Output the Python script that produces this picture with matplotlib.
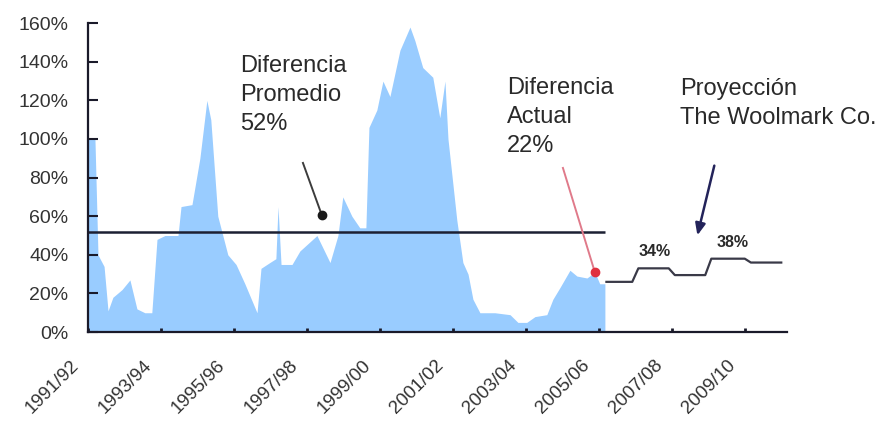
import matplotlib
matplotlib.use('Agg')
import matplotlib.pyplot as plt
from matplotlib.transforms import ScaledTranslation

plt.rcParams['font.family'] = ['Liberation Sans', 'DejaVu Sans']

# ---- data ----
season_labels = ['1991/92', '1993/94', '1995/96', '1997/98', '1999/00',
                 '2001/02', '2003/04', '2005/06', '2007/08', '2009/10']
tick_months = [0, 24, 48, 72, 96, 120, 144, 168, 192, 216]
y_ticks = [0, 20, 40, 60, 80, 100, 120, 140, 160]

# historical price difference (%), months since start of 1991/92
hist_month = [0, 2.3, 3.3, 5.3, 6.6, 8.2, 11.2, 13.8, 16.1, 18.7, 21, 22.7,
              25.3, 29.6, 30.6, 34.2, 36.8, 39.1, 40.4, 42.7, 46, 48.7, 51.6,
              55.6, 56.9, 59.8, 61.8, 62.5, 63.5, 67.1, 69.7, 75.3, 79.6, 82.2,
              83.8, 86.8, 89.4, 91.4, 92.4, 95, 97, 99.3, 102.6, 105.9, 107.5,
              110.1, 113.4, 115.7, 117.4, 118.4, 121.3, 123.3, 125, 126.6,
              128.9, 133.8, 138.8, 141.4, 144.3, 147, 150.9, 152.9, 155.2,
              158.5, 160.8, 164.1, 166.7, 168.3, 170]
hist_diff = [100, 100, 40, 34, 11, 18, 22, 27, 12, 10, 10, 48,
             50, 50, 65, 66, 90, 120, 110, 60, 40, 35, 25,
             10, 33, 36, 38, 65, 35, 35, 42, 50, 36, 50,
             70, 60, 54, 54, 106, 115, 130, 122, 146, 158, 151,
             137, 132, 111, 130, 100, 58, 36, 30, 17,
             10, 10, 9, 5, 5, 8, 9, 17, 23,
             32, 29, 28, 31, 25, 25]
mean_diff = 52
mean_end_month = 170

# projection (The Woolmark Co.)
proj_month = [170.5, 179, 181, 191, 193, 203, 205, 216, 218, 228]
proj_diff = [26, 26, 33, 33, 29.5, 29.5, 38, 38, 36, 36]
proj_label_text = ['34%', '38%']
proj_label_month = [186.4, 212]
proj_label_value = [41.5, 46.6]

current_month = 166.7
current_diff = 31

# ---- figure ----
fig = plt.figure(figsize=(8.93, 4.29), dpi=100)
ax = fig.add_axes([0.0985, 0.226, 0.7825, 0.72])

ax.fill_between(hist_month, 0, hist_diff, color='#99CCFF', lw=0, zorder=1)
ax.hlines(mean_diff, 0, mean_end_month, color='#1c2033', lw=1.8, zorder=3)
ax.plot(proj_month, proj_diff, color='#3a3a48', lw=1.6, zorder=3)

for t, m, v in zip(proj_label_text, proj_label_month, proj_label_value):
    ax.text(m, v, t, ha='center', va='center', fontsize=11.5,
            color='#2a2a2a', fontweight='bold')

txt_kw = dict(fontsize=17, color='#2a2a2a', va='top', ha='left',
              linespacing=1.42)
ax.text(50, 143.5, 'Diferencia\nPromedio\n52%', **txt_kw)
ax.text(137.8, 132, 'Diferencia\nActual\n22%', **txt_kw)
ax.text(194.6, 131.6, 'Proyección\nThe Woolmark Co.', clip_on=False, **txt_kw)

# arrow to mean line
ax.plot([70.7, 76.9], [87.6, 60.6], color='#3c3c3c', lw=1.4, zorder=4)
ax.plot([76.9], [60.6], 'o', color='#1a1a1a', ms=6, zorder=5)
# arrow to current value
ax.plot([156.2, current_month], [85, current_diff], color='#e07a8a', lw=1.4, zorder=4)
ax.plot([current_month], [current_diff], 'o', color='#e03040', ms=6, zorder=5)
# arrow to projection
ax.annotate('', xy=(200.2, 48.7), xytext=(206.2, 87.6),
            arrowprops=dict(arrowstyle='-|>,head_length=0.7,head_width=0.3',
                            color='#23235a', lw=1.8), zorder=5)

ax.set_xlim(0, 229.8)
ax.set_ylim(0, 160)
ax.set_xticks(tick_months)
ax.set_xticklabels(season_labels, rotation=45, ha='right', va='top')
ax.set_yticks(y_ticks)
ax.set_yticklabels([f'{v}%' for v in y_ticks])

for s in ['top', 'right']:
    ax.spines[s].set_visible(False)
for s in ['left', 'bottom']:
    ax.spines[s].set_linewidth(1.6)
    ax.spines[s].set_color('#1a1a2a')
    ax.spines[s].set_zorder(6)

ax.tick_params(axis='y', direction='in', length=7, width=1.5, color='#1a1a2a',
               labelsize=14, labelcolor='#333333', pad=14)
ax.tick_params(axis='x', direction='in', length=3, width=2, color='#1a1a2a',
               labelsize=13.5, labelcolor='#333333', pad=18)
offset = ScaledTranslation(-6 / 100, 0, fig.dpi_scale_trans)
for lab in ax.get_xticklabels():
    lab.set_transform(lab.get_transform() + offset)

fig.savefig('out.png', dpi=100)
